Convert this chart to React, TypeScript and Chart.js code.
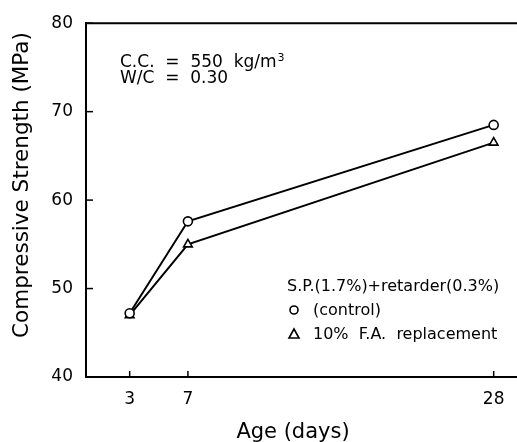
import React, { useEffect, useRef } from "react";
import { Chart, registerables } from "chart.js";

Chart.register(...registerables);

const days = [3, 7, 28];
const controlStrength = [47.2, 57.6, 68.5];
const flyAshStrength = [47.0, 55.0, 66.5];
const yTicks = [40, 50, 60, 70, 80];
const xTitle = "Age (days)";
const yTitle = "Compressive Strength (MPa)";
const noteLine1 = "C.C.  =  550  kg/m";
const noteLine2 = "W/C  =  0.30";
const legendHeader = "S.P.(1.7%)+retarder(0.3%)";
const legendControl = "(control)";
const legendFlyAsh = "10%  F.A.  replacement";

const INK = "#000";
const FONT = "'DejaVu Sans', sans-serif";

const decorPlugin = {
  id: "decor",
  afterDraw(chart: any) {
    const ctx = chart.ctx;
    const { left, top, bottom } = chart.chartArea;
    const xs = chart.scales.x;
    const ys = chart.scales.y;
    ctx.save();
    ctx.strokeStyle = INK;
    ctx.fillStyle = INK;
    // top frame line
    ctx.lineWidth = 2;
    ctx.beginPath();
    ctx.moveTo(left - 1, top);
    ctx.lineTo(chart.width, top);
    ctx.stroke();
    // inward ticks
    ctx.lineWidth = 1.5;
    yTicks.forEach((v) => {
      const y = ys.getPixelForValue(v);
      ctx.beginPath();
      ctx.moveTo(left, y);
      ctx.lineTo(left + 7, y);
      ctx.stroke();
    });
    days.forEach((d) => {
      const x = xs.getPixelForValue(d);
      ctx.beginPath();
      ctx.moveTo(x, bottom);
      ctx.lineTo(x, bottom - 6);
      ctx.stroke();
    });
    // axis titles
    ctx.font = `21px ${FONT}`;
    ctx.textAlign = "center";
    ctx.textBaseline = "alphabetic";
    ctx.fillText(xTitle, 293, 438);
    ctx.save();
    ctx.translate(28, 185);
    ctx.rotate(-Math.PI / 2);
    ctx.font = `21.5px ${FONT}`;
    ctx.fillText(yTitle, 0, 0);
    ctx.restore();
    // annotation
    ctx.textAlign = "left";
    ctx.font = `17px ${FONT}`;
    ctx.fillText(noteLine1, 120, 67);
    const w1 = ctx.measureText(noteLine1).width;
    ctx.font = `11px ${FONT}`;
    ctx.fillText("3", 120 + w1 + 1, 61);
    ctx.font = `17px ${FONT}`;
    ctx.fillText(noteLine2, 120, 83);
    // legend
    ctx.font = `16px ${FONT}`;
    ctx.fillText(legendHeader, 287, 291);
    ctx.fillText(legendControl, 313, 315);
    ctx.fillText(legendFlyAsh, 313, 339);
    ctx.lineWidth = 1.6;
    ctx.beginPath();
    ctx.arc(294, 310, 4, 0, Math.PI * 2);
    ctx.stroke();
    ctx.beginPath();
    ctx.moveTo(294, 329);
    ctx.lineTo(299, 338);
    ctx.lineTo(289, 338);
    ctx.closePath();
    ctx.stroke();
    ctx.restore();
  },
};

export default function App() {
  const ref = useRef<HTMLCanvasElement>(null);
  useEffect(() => {
    if (!ref.current) return;
    const chart = new Chart(ref.current, {
      type: "line",
      data: {
        datasets: [
          {
            label: "(control)",
            data: days.map((d, i) => ({ x: d, y: controlStrength[i] })),
            borderColor: INK,
            borderWidth: 2,
            pointStyle: "circle",
            pointRadius: 4.5,
            pointBorderWidth: 1.6,
            pointBackgroundColor: "#fff",
            pointBorderColor: INK,
            tension: 0,
          },
          {
            label: "10% F.A. replacement",
            data: days.map((d, i) => ({ x: d, y: flyAshStrength[i] })),
            borderColor: INK,
            borderWidth: 2,
            pointStyle: "triangle",
            pointRadius: 5,
            pointBorderWidth: 1.6,
            pointBackgroundColor: "#fff",
            pointBorderColor: INK,
            tension: 0,
          },
        ],
      },
      options: {
        animation: false,
        responsive: false,
        events: [],
        layout: { padding: { top: 17, right: 17.2, left: 0, bottom: 0 } },
        plugins: { legend: { display: false }, tooltip: { enabled: false } },
        scales: {
          x: {
            type: "linear",
            min: 0,
            max: 30,
            afterBuildTicks: (s: any) => {
              s.ticks = days.map((v) => ({ value: v }));
            },
            afterFit: (s: any) => {
              s.height = 65;
            },
            grid: { display: false, drawTicks: false },
            border: { display: true, color: INK, width: 2 },
            ticks: {
              color: INK,
              font: { family: FONT, size: 17 },
              padding: 12,
              maxRotation: 0,
              autoSkip: false,
            },
          },
          y: {
            min: 40,
            max: 80,
            afterBuildTicks: (s: any) => {
              s.ticks = yTicks.map((v) => ({ value: v }));
            },
            afterFit: (s: any) => {
              s.width = 86;
            },
            grid: { display: false, drawTicks: false },
            border: { display: true, color: INK, width: 2 },
            ticks: {
              color: INK,
              font: { family: FONT, size: 17 },
              padding: 13,
            },
          },
        },
      },
      plugins: [decorPlugin],
    });
    return () => chart.destroy();
  }, []);
  return (
    <div
      style={{
        position: "fixed",
        left: 0,
        top: 0,
        width: 517,
        height: 442,
        overflow: "hidden",
        background: "#fff",
      }}
    >
      <canvas ref={ref} width={540} height={442} style={{ width: 540, height: 442, display: "block" }} />
    </div>
  );
}
